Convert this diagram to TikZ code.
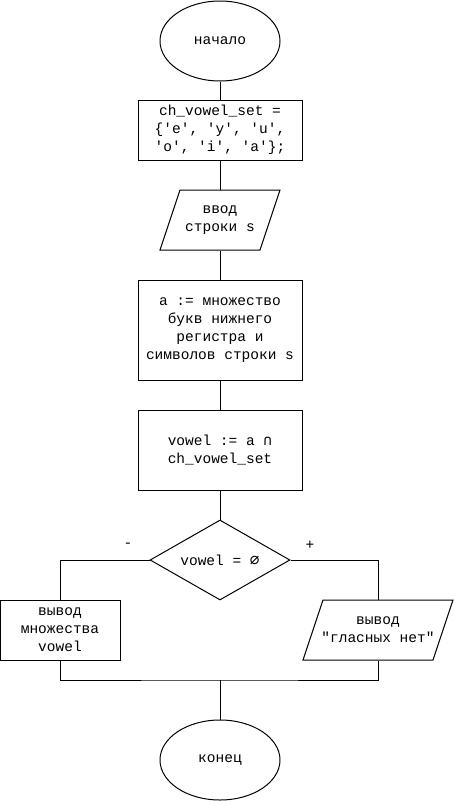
\documentclass[tikz,border=0pt]{standalone}
\usepackage{fontspec}
\setmonofont{Liberation Mono}
\newfontfamily\symf{DejaVu Sans Mono}
\usetikzlibrary{shapes.geometric}
\begin{document}
\begin{tikzpicture}[x=1pt,y=-1pt,
  font=\ttfamily\fontsize{14.5}{18}\selectfont,
  line width=1pt,
  base/.style={align=center, inner sep=0pt},
  term/.style={base, draw, ellipse, minimum width=120pt, minimum height=80pt},
  proc/.style={base, draw, rectangle},
  dec/.style={base, draw, diamond, aspect=1.75, minimum width=140pt, minimum height=80pt},
  body/.style={base, rectangle},
  lbl/.style={inner sep=0pt}]
\useasboundingbox (0,0) rectangle (454,801);

\node[term] (start) at (220,41) {начало};
\node[proc, minimum width=164pt, minimum height=60pt] (b1) at (220,130) {ch\_vowel\_set =\\\{'e', 'y', 'u',\\'o', 'i', 'a'\};};
\node[body, minimum width=100pt, minimum height=60pt] (in1) at (220,220) {ввод\\строки s};
\draw (180,190) -- (280,190) -- (260,250) -- (160,250) -- cycle;
\node[proc, minimum width=164pt, minimum height=100pt] (b2) at (220,330) {a := множество\\букв нижнего\\регистра и\\символов строки s};
\node[proc, minimum width=164pt, minimum height=80pt] (b3) at (220,450) {vowel := a {\symf ∩}\\ch\_vowel\_set};
\node[dec] (d) at (220,560) {vowel = {\symf\fontsize{16}{18}\selectfont ∅}};
\node[proc, minimum width=120pt, minimum height=60pt] (o1) at (60,630) {вывод\\множества\\vowel};
\node[body, minimum width=110pt, minimum height=60pt] (o2) at (378,630) {вывод\\"гласных нет"};
\draw (323,600) -- (453,600) -- (433,660) -- (303,660) -- cycle;
\node[term] (end) at (220,760) {конец};
\node[lbl] (minus) at (128,545) {-};
\node[lbl] (plus) at (310,545) {+};
\coordinate (mrg) at (220,680);

\draw (start.south) -- (b1.north);
\draw (b1.south) -- (in1.north);
\draw (in1.south) -- (b2.north);
\draw (b2.south) -- (b3.north);
\draw (b3.south) -- (d.north);
\draw (d.west) -| (o1.north);
\draw (d.east) -| (o2.north);
\draw (o1.south) |- (mrg) -| (o2.south);
\draw (mrg) -- (end.north);
\end{tikzpicture}
\end{document}
